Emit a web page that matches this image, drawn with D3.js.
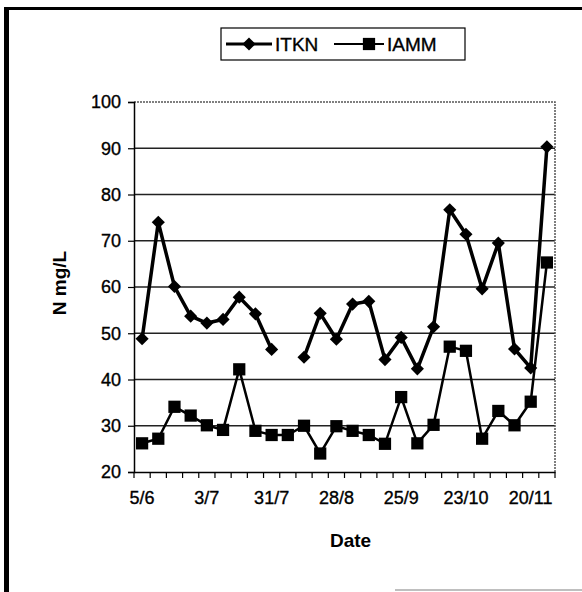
<!DOCTYPE html>
<html>
<head>
<meta charset="utf-8">
<script src="https://cdn.jsdelivr.net/npm/d3@7"></script>
<style>
  body { margin: 0; background: #fff; }
  svg { display: block; font-family: "Liberation Sans", Arial, sans-serif; }
</style>
</head>
<body>
<svg id="chart"></svg>
<script>
// Chart size
const width = 582, height = 592;

// Weekly sampling dates (day/month)
const dates = ["5/6", "12/6", "19/6", "26/6", "3/7", "10/7", "17/7", "24/7", "31/7",
  "7/8", "14/8", "21/8", "28/8", "4/9", "11/9", "18/9", "25/9", "2/10", "9/10",
  "16/10", "23/10", "30/10", "6/11", "13/11", "20/11", "27/11"];

// N mg/L (null = no sample)
const itkn = [48.8, 74, 60.1, 53.7, 52.2, 53, 57.8, 54.2, 46.5, null, 44.8, 54.3, 48.7,
  56.3, 56.9, 44.3, 49.1, 42.3, 51.4, 76.7, 71.4, 59.6, 69.5, 46.6, 42.5, 90.3];
const iamm = [26.2, 27.2, 34.1, 32.2, 30.1, 29.1, 42.2, 28.9, 28, 28, 30, 24, 29.9,
  28.9, 28, 26.1, 36.2, 26.2, 30.2, 47.1, 46.2, 27.2, 33.2, 30.1, 35.2, 65.3];

const yTicks = [20, 30, 40, 50, 60, 70, 80, 90, 100];
const xLabels = dates.filter((d, i) => i % 4 === 0);

// Plot area
const plot = { left: 134, right: 555, top: 102, bottom: 472 };

const svg = d3.select("#chart")
    .attr("width", width)
    .attr("height", height);

// Outer frame (thick left and top edges, faint bottom edge)
svg.append("rect").attr("x", 4).attr("y", 7).attr("width", 5).attr("height", height - 7).attr("fill", "#000");
svg.append("rect").attr("x", 4).attr("y", 7).attr("width", width - 4).attr("height", 3).attr("fill", "#000");
svg.append("line").attr("x1", 395).attr("x2", width).attr("y1", 590).attr("y2", 590)
    .attr("stroke", "#aaa").attr("stroke-width", 1.5);

// Scales
const x = d3.scaleBand()
    .domain(dates)
    .range([plot.left, plot.right])
    .padding(0);

const y = d3.scaleLinear()
    .domain([20, 100])
    .range([plot.bottom, plot.top]);

const cx = d => x(d) + x.bandwidth() / 2;

// Gridlines
svg.append("g")
    .selectAll("line")
    .data(yTicks.filter(t => t > 20 && t < 100))
    .enter()
    .append("line")
    .attr("x1", plot.left)
    .attr("x2", plot.right)
    .attr("y1", d => y(d))
    .attr("y2", d => y(d))
    .attr("stroke", "#222")
    .attr("stroke-width", 1.3);

// Plot area border, top and right (dotted grey)
svg.append("path")
    .attr("d", `M${plot.left},${plot.top}H${plot.right}V${plot.bottom}`)
    .attr("fill", "none")
    .attr("stroke", "#555")
    .attr("stroke-width", 1.5)
    .attr("stroke-dasharray", "2,1");

// Text looks heavy in the scan, so give it a thin outline
const heavy = sel => sel.attr("fill", "#000").attr("stroke", "#000").attr("stroke-width", 0.35);

// Y axis
const yAxis = svg.append("g")
    .attr("transform", `translate(${plot.left},0)`)
    .call(d3.axisLeft(y).tickValues(yTicks).tickSize(6).tickPadding(7));
yAxis.select(".domain").attr("stroke", "#000").attr("stroke-width", 1.5);
yAxis.selectAll(".tick line").attr("stroke", "#000").attr("stroke-width", 1.2);
yAxis.selectAll("text").attr("font-size", 18).call(heavy);

// X axis: a tick at every band edge, labels every four weeks
const xAxis = svg.append("g")
    .attr("transform", `translate(0,${plot.bottom})`)
    .call(d3.axisBottom(x).tickValues(xLabels).tickSize(0).tickPadding(19));
xAxis.select(".domain").attr("stroke", "#000").attr("stroke-width", 1.5);
xAxis.selectAll("text").attr("font-size", 18).call(heavy);

svg.append("g")
    .selectAll("line")
    .data(dates.concat([null]))
    .enter()
    .append("line")
    .attr("x1", (d, i) => plot.left + i * x.bandwidth())
    .attr("x2", (d, i) => plot.left + i * x.bandwidth())
    .attr("y1", plot.bottom)
    .attr("y2", plot.bottom + 6)
    .attr("stroke", "#000")
    .attr("stroke-width", 1.2);

// Axis titles
svg.append("text")
    .attr("x", (plot.left + plot.right) / 2 + 6)
    .attr("y", 547)
    .attr("text-anchor", "middle")
    .attr("font-size", 19)
    .attr("font-weight", "bold")
    .text("Date");

svg.append("text")
    .attr("transform", `translate(66,283) rotate(-90)`)
    .attr("text-anchor", "middle")
    .attr("font-size", 19)
    .attr("font-weight", "bold")
    .text("N mg/L");

// Lines
const line = values => d3.line()
    .defined(d => values[dates.indexOf(d)] !== null)
    .x(d => cx(d))
    .y(d => y(values[dates.indexOf(d)]))(dates);

svg.append("path")
    .attr("d", line(iamm))
    .attr("fill", "none")
    .attr("stroke", "#000")
    .attr("stroke-width", 2.5);

svg.append("path")
    .attr("d", line(itkn))
    .attr("fill", "none")
    .attr("stroke", "#000")
    .attr("stroke-width", 3.5);

// Markers
const diamond = d3.symbol().type(d3.symbolDiamond2).size(110);
const square = d3.symbol().type(d3.symbolSquare).size(150);

svg.append("g")
    .selectAll("path")
    .data(dates.filter((d, i) => itkn[i] !== null))
    .enter()
    .append("path")
    .attr("d", diamond)
    .attr("transform", d => `translate(${cx(d)},${y(itkn[dates.indexOf(d)])})`)
    .attr("fill", "#000");

svg.append("g")
    .selectAll("path")
    .data(dates)
    .enter()
    .append("path")
    .attr("d", square)
    .attr("transform", (d, i) => `translate(${cx(d)},${y(iamm[i])})`)
    .attr("fill", "#000");

// Legend
const legend = svg.append("g");
legend.append("rect")
    .attr("x", 221).attr("y", 28).attr("width", 244).attr("height", 32)
    .attr("fill", "#fff").attr("stroke", "#000").attr("stroke-width", 1.2);

legend.append("line").attr("x1", 226).attr("x2", 272).attr("y1", 44).attr("y2", 44)
    .attr("stroke", "#000").attr("stroke-width", 3);
legend.append("path").attr("d", diamond).attr("transform", "translate(249,44)").attr("fill", "#000");
legend.append("text").attr("x", 275).attr("y", 51).attr("font-size", 19).call(heavy).text("ITKN");

legend.append("line").attr("x1", 334).attr("x2", 384).attr("y1", 44).attr("y2", 44)
    .attr("stroke", "#000").attr("stroke-width", 2);
legend.append("path").attr("d", square).attr("transform", "translate(369,44)").attr("fill", "#000");
legend.append("text").attr("x", 387).attr("y", 51).attr("font-size", 19).call(heavy).text("IAMM");
</script>
</body>
</html>
